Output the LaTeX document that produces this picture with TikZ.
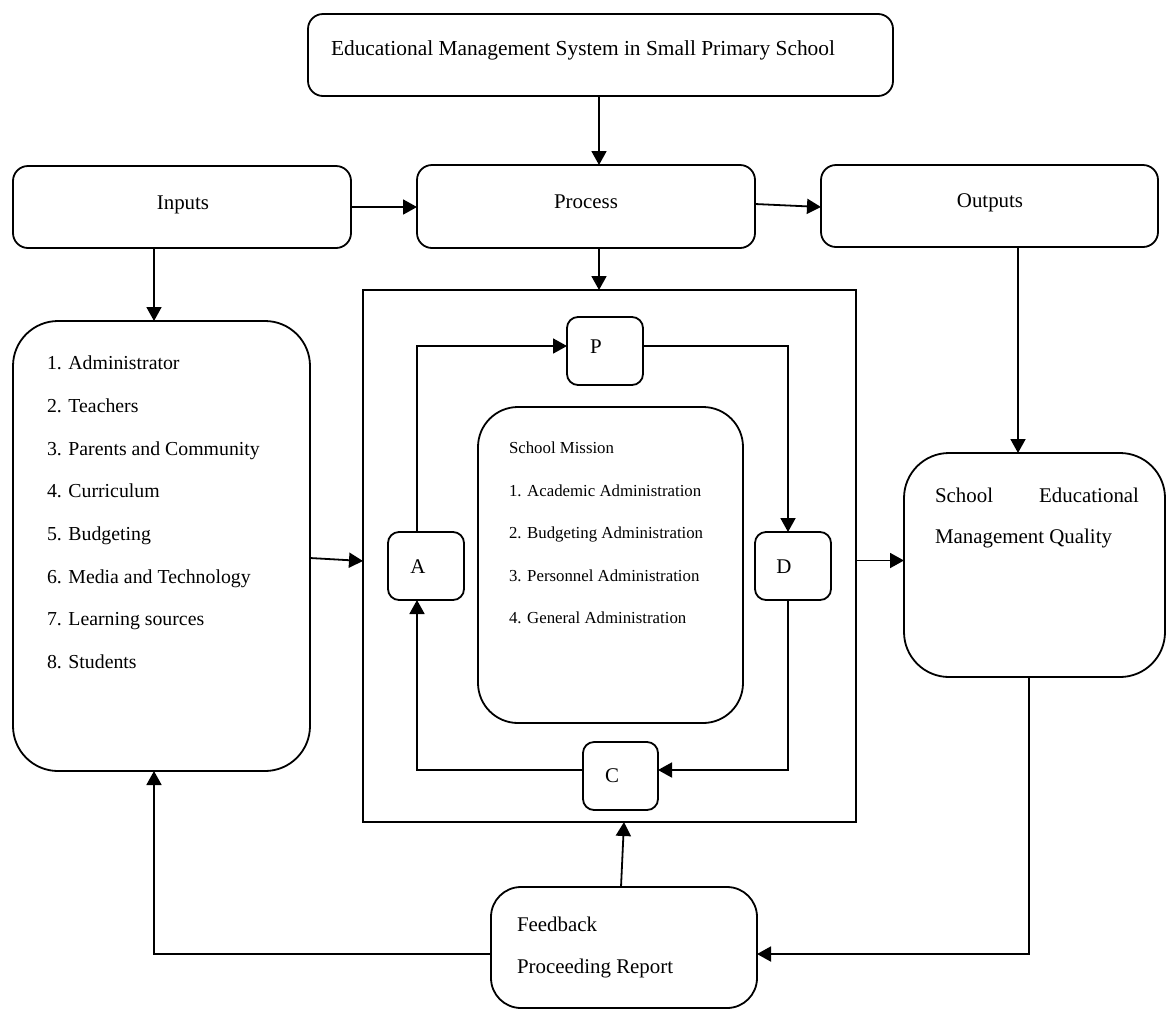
\documentclass[tikz,border=0pt]{standalone}
\usepackage{fontspec}
\setmainfont{Liberation Serif}
\usetikzlibrary{arrows.meta}
\begin{document}
\begin{tikzpicture}[x=1pt,y=-1pt,
  every node/.style={inner sep=0pt,outer sep=0pt},
  box/.style={draw,line width=1.8pt,rounded corners=15pt},
  smallbox/.style={draw,line width=1.8pt,rounded corners=11pt,minimum width=76pt,minimum height=68pt},
  bigbox/.style={draw,line width=1.8pt,rounded corners=45pt},
  conn/.style={line width=1.8pt},
  arr/.style={conn,-{Triangle[length=14pt,width=15pt]}},
  txt/.style={font=\fontsize{20.9}{24}\selectfont},
  ltxt/.style={font=\fontsize{19.8}{24}\selectfont},
  stxt/.style={font=\fontsize{16.8}{20}\selectfont},
  lt/.style={txt,anchor=base west},
  ct/.style={txt,anchor=base},
  llt/.style={ltxt,anchor=base west},
  slt/.style={stxt,anchor=base west}]
\useasboundingbox (0,0) rectangle (1166,1010);

% boxes
\node[box,minimum width=585pt,minimum height=82pt] (top) at (600.5,55) {};
\node[box,minimum width=338pt,minimum height=82pt] (inputs) at (182,207) {};
\node[box,minimum width=338pt,minimum height=83pt] (proc) at (586,206.5) {};
\node[box,minimum width=337pt,minimum height=82pt] (outp) at (989.5,206) {};
\node[bigbox,minimum width=297pt,minimum height=450pt] (list) at (161.5,546) {};
\node[draw,line width=1.8pt,minimum width=493pt,minimum height=532pt] (outer) at (609.5,556) {};
\node[smallbox] (P) at (605,351) {};
\node[smallbox] (A) at (426,566) {};
\node[smallbox] (D) at (793,566) {};
\node[smallbox,minimum width=75pt] (C) at (620.5,776) {};
\node[draw,line width=1.8pt,rounded corners=40pt,minimum width=265pt,minimum height=316pt] (mission) at (610.5,565) {};
\node[bigbox,minimum width=261pt,minimum height=224pt] (quality) at (1034.5,565) {};
\node[draw,line width=1.8pt,rounded corners=30pt,minimum width=266pt,minimum height=121pt] (feedback) at (624,947.5) {};

% texts
\node[lt,font=\fontsize{21.4}{24}\selectfont] (ttitle) at (331,55) {Educational Management System in Small Primary School};
\node[ct] (tinputs) at (183,209) {Inputs};
\node[ct] (tproc) at (586,208) {Process};
\node[ct] (toutp) at (990,207) {Outputs};
\node[ct] (tP) at (596,353) {P};
\node[ct] (tA) at (418,573) {A};
\node[ct] (tD) at (784,573) {D};
\node[ct] (tC) at (612,782) {C};

\node[llt] (l1) at (47,369) {1. Administrator};
\node[llt] (l2) at (47,412) {2. Teachers};
\node[llt] (l3) at (47,455) {3. Parents and Community};
\node[llt] (l4) at (47,497) {4. Curriculum};
\node[llt] (l5) at (47,540) {5. Budgeting};
\node[llt] (l6) at (47,583) {6. Media and Technology};
\node[llt] (l7) at (47,625) {7. Learning sources};
\node[llt] (l8) at (47,668) {8. Students};

\node[slt] (m0) at (509,453) {School Mission};
\node[slt] (m1) at (509,496) {1. Academic Administration};
\node[slt] (m2) at (509,538) {2. Budgeting Administration};
\node[slt] (m3) at (509,581) {3. Personnel Administration};
\node[slt] (m4) at (509,623) {4. General Administration};

\node[lt] (q1) at (935,502) {School};
\node[txt,anchor=base east] (q2) at (1139,502) {Educational};
\node[lt] (q3) at (935,543) {Management Quality};

\node[lt] (f1) at (517,931) {Feedback};
\node[lt] (f2) at (517,973) {Proceeding Report};

% connectors
\draw[arr] ([xshift=-1.5pt]top.south) -- ([xshift=-1.5pt]top.south |- proc.north);
\draw[arr] (inputs.east) -- (proc.west |- inputs.east);
\draw[arr] ([yshift=2.5pt]proc.east) -- ([yshift=-1pt]outp.west);
\draw[arr] ([xshift=-1.5pt]top.south |- proc.south) -- ([xshift=-1.5pt]top.south |- outer.north);
\draw[arr] ([xshift=-28pt]inputs.south) -- ([xshift=-7.5pt]list.north);
\draw[arr] ([yshift=-12pt]list.east) -- ([yshift=-5pt]outer.west);
\draw[arr] ([yshift=-4.5pt]outer.east) -- ([yshift=4.5pt]quality.west);
\draw[arr] ([xshift=28.5pt]outp.south) -- ([xshift=-16.5pt]quality.north);
\draw[arr] ([xshift=-5.5pt]quality.south) |- ([yshift=-6.5pt]feedback.east);
\draw[arr] ([yshift=-6.5pt]feedback.west) -| ([xshift=-7.5pt]list.south);
\draw[arr] ([xshift=-3pt]feedback.north) -- ([xshift=14.5pt]outer.south);
\draw[arr] ([xshift=-9pt]A.north) |- ([yshift=5pt]P.west);
\draw[arr] ([yshift=5pt]P.east) -| ([xshift=-5pt]D.north);
\draw[arr] ([xshift=-5pt]D.south) |- ([yshift=6pt]C.east);
\draw[arr] ([yshift=6pt]C.west) -| ([xshift=-9pt]A.south);
\end{tikzpicture}
\end{document}
